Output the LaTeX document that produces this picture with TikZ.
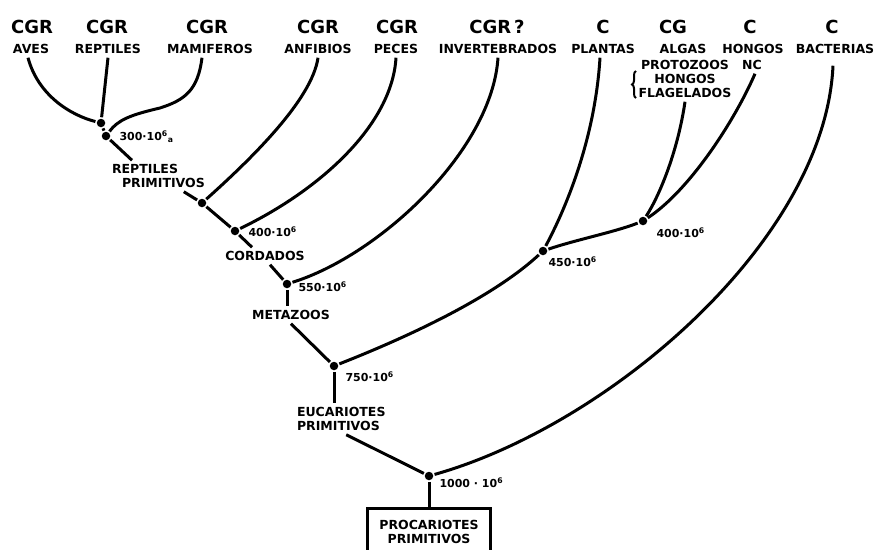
\documentclass[tikz,border=0pt]{standalone}
\usepackage{fontspec}
\setmainfont{DejaVu Sans}
\usetikzlibrary{positioning,decorations.pathreplacing}
\begin{document}
\begin{tikzpicture}[x=1pt,y=-1pt,line width=3pt,
	taxon/.style={font=\fontsize{12.5}{14}\selectfont\bfseries,inner sep=1pt,outer sep=3pt},
	code/.style={font=\fontsize{18}{20}\selectfont\bfseries,inner sep=1pt},
	age/.style={font=\fontsize{11}{12}\selectfont\bfseries,anchor=west,inner sep=0pt},
	dot/.style={circle,fill,inner sep=0pt,minimum size=8.5pt}]
	\useasboundingbox (0,0) rectangle (878,549);
	% grupos actuales
	\foreach \n/\x/\cx/\c/\t in {aves/31/32/CGR/AVES,rep/108/107/CGR/REPTILES,mam/210/207/CGR/MAMIFEROS,anf/318/318/CGR/ANFIBIOS,pec/396/397/CGR/PECES,inv/498/497/CGR\,?/INVERTEBRADOS,pla/603/603/C/PLANTAS,alg/683/673/CG/ALGAS,hon/753/750/C/HONGOS,bac/835/832/C/BACTERIAS}{
		\node[taxon] (\n) at (\x,49) {\t};
		\node[code] at (\cx,27) {\c};
	}
	\node[taxon] (nc) at (752,65) {NC};
	\node[taxon,align=center] (flag) at (685,79) {PROTOZOOS\\HONGOS\\FLAGELADOS};
	\draw[line width=2pt,decorate,decoration={brace,amplitude=4pt}] (636,98)--(636,71);
	% nodos de ramificacion
	\foreach \n/\x/\y in {n300a/101/123,n300/106/136,nanf/202/203,n400/235/231,n550/287/284,n750/334/366,n450/543/251,n400b/643/221,n1000/429/476}
		\node[dot] (\n) at (\x,\y) {};
	\node[age] at (118,137) {300·10\textsuperscript{6}\textsubscript{a}};
	\node[age] at (247,232) {400·10\textsuperscript{6}};
	\node[age] at (297,287) {550·10\textsuperscript{6}};
	\node[age] at (344,377) {750·10\textsuperscript{6}};
	\node[age] at (547,262) {450·10\textsuperscript{6}};
	\node[age] at (655,233) {400·10\textsuperscript{6}};
	\node[age] at (438,483) {1000 · 10\textsuperscript{6}};
	% grupos ancestrales
	\node[taxon,align=left,anchor=west] (rprim) at (108,176) {REPTILES\\\hspace*{10pt}PRIMITIVOS};
	\node[taxon] (cord) at (265,256) {CORDADOS};
	\node[taxon] (meta) at (291,315) {METAZOOS};
	\node[taxon,align=left,anchor=west] (euc) at (293,419) {EUCARIOTES\\PRIMITIVOS};
	\node[taxon,draw,line width=3pt,minimum width=123pt,minimum height=48pt,align=center,outer sep=0pt] (proc) at (429,532) {PROCARIOTES\\PRIMITIVOS};
	% ramas
	\draw([xshift=-3pt]aves.south) .. controls (38,95) and (70,115) .. (n300a);
	\draw(rep.south)--(n300a)--(n300);
	\draw([xshift=-8pt]mam.south) .. controls (198,90) and (185,100) .. (160,108) .. controls (130,115) and (118,120) .. (n300);
	\draw(n300)--([xshift=24pt]rprim.north west);
	\draw([xshift=-25pt]rprim.south east)--(nanf)--(n400);
	\draw(anf.south) .. controls (312,100) and (250,160) .. (nanf);
	\draw(pec.south) .. controls (392,125) and (320,190) .. (n400);
	\draw(n400)--([xshift=-13pt]cord.north);
	\draw([xshift=5pt]cord.south)--(n550);
	\draw(inv.south) .. controls (492,150) and (380,255) .. (n550);
	\draw(n550)--(n550|-meta.north);
	\draw(meta.south)--(n750);
	\draw(n750) .. controls (400,340) and (490,300) .. (n450);
	\draw([xshift=-3pt]pla.south) .. controls (595,140) and (565,210) .. (n450);
	\draw(n450) .. controls (575,240) and (615,232) .. (n400b);
	\draw(flag.south) .. controls (678,150) and (660,195) .. (n400b);
	\draw([xshift=3pt]nc.south) .. controls (735,120) and (690,190) .. (n400b);
	\draw(n750)--(n750|-euc.north);
	\draw([xshift=5pt]euc.south)--(n1000);
	\draw([xshift=-2pt,yshift=-8pt]bac.south) .. controls (825,240) and (610,425) .. (n1000);
	\draw(n1000)--(proc.north);
\end{tikzpicture}
\end{document}
